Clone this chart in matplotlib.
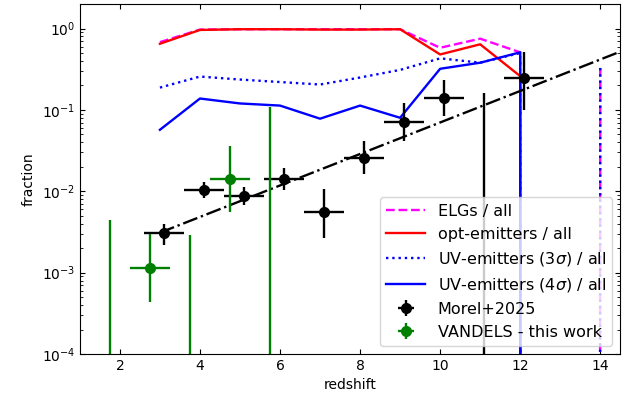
import numpy as np
import matplotlib
matplotlib.use("Agg")
import matplotlib.pyplot as plt

# redshift grid for the fraction curves
z = np.array([3, 4, 5, 6, 7, 8, 9, 10, 11, 12, 13, 14])
elg_frac = np.array([0.68, 0.97, 0.98, 0.98, 0.98, 0.98, 0.98, 0.58, 0.75, 0.51, 0.0, 0.33])
opt_frac = np.array([0.65, 0.96, 0.98, 0.98, 0.97, 0.97, 0.98, 0.48, 0.64, 0.26, 0.0, 0.0])
uv3_frac = np.array([0.188, 0.257, 0.236, 0.22, 0.205, 0.25, 0.31, 0.43, 0.38, 0.50, 0.0, 0.33])
uv4_frac = np.array([0.057, 0.138, 0.12, 0.113, 0.078, 0.113, 0.08, 0.32, 0.38, 0.51, 0.0, 0.0])

# model (dash-dot) line endpoints
model_z = [3.0, 14.5]
model_f = [0.0031, 0.52]

# Morel+2025
morel_z = np.array([3.1, 4.1, 5.1, 6.1, 7.1, 8.1, 9.1, 10.1, 11.1, 12.1])
morel_f = np.array([0.0031, 0.0105, 0.0088, 0.0143, 0.0055, 0.026, 0.072, 0.142, 0.0, 0.25])
morel_hi = np.array([0.0040, 0.0131, 0.0114, 0.0195, 0.0107, 0.042, 0.123, 0.23, 0.163, 0.51])
morel_lo = np.array([0.0022, 0.0083, 0.0067, 0.0105, 0.0027, 0.0164, 0.041, 0.083, 0.0, 0.10])

# VANDELS - this work
vand_z = np.array([1.75, 2.75, 3.75, 4.75, 5.75])
vand_f = np.array([0.0, 0.00114, 0.0, 0.0143, 0.0])
vand_hi = np.array([0.0044, 0.0030, 0.0029, 0.036, 0.11])
vand_lo = np.array([0.0, 0.00044, 0.0, 0.0055, 0.0])

fig = plt.figure(figsize=(6.24, 4.01), dpi=100)
ax = fig.add_axes([0.128, 0.117, 0.866, 0.873])

ax.plot(z, elg_frac, color='magenta', ls='--', lw=1.7, label='ELGs / all')
ax.plot(z, opt_frac, color='red', ls='-', lw=1.7, label='opt-emitters / all')
ax.plot(z, uv3_frac, color='blue', ls=':', lw=1.7, label=r'UV-emitters (3$\sigma$) / all')
ax.plot(z, uv4_frac, color='blue', ls='-', lw=1.7, label=r'UV-emitters (4$\sigma$) / all')
ax.plot(model_z, model_f, color='black', ls='-.', lw=1.7)

ax.errorbar(morel_z, morel_f, xerr=0.5,
            yerr=[morel_f - morel_lo, morel_hi - morel_f],
            fmt='o', color='black', ms=7, elinewidth=1.7, label='Morel+2025')
ax.errorbar(vand_z, vand_f, xerr=0.5,
            yerr=[vand_f - vand_lo, vand_hi - vand_f],
            fmt='o', color='green', ms=7, elinewidth=1.7, label='VANDELS - this work')

ax.set_yscale('log')
ax.set_xlim(1, 14.5)
ax.set_ylim(1e-4, 2)
ax.set_xticks([2, 4, 6, 8, 10, 12, 14])
ax.tick_params(which='both', direction='in', top=True, right=True)
ax.set_xlabel('redshift')
ax.set_ylabel('fraction')
ax.legend(loc='lower right', fontsize=11.5, handlelength=2.4, labelspacing=0.5)

fig.savefig('out.png', dpi=100)
